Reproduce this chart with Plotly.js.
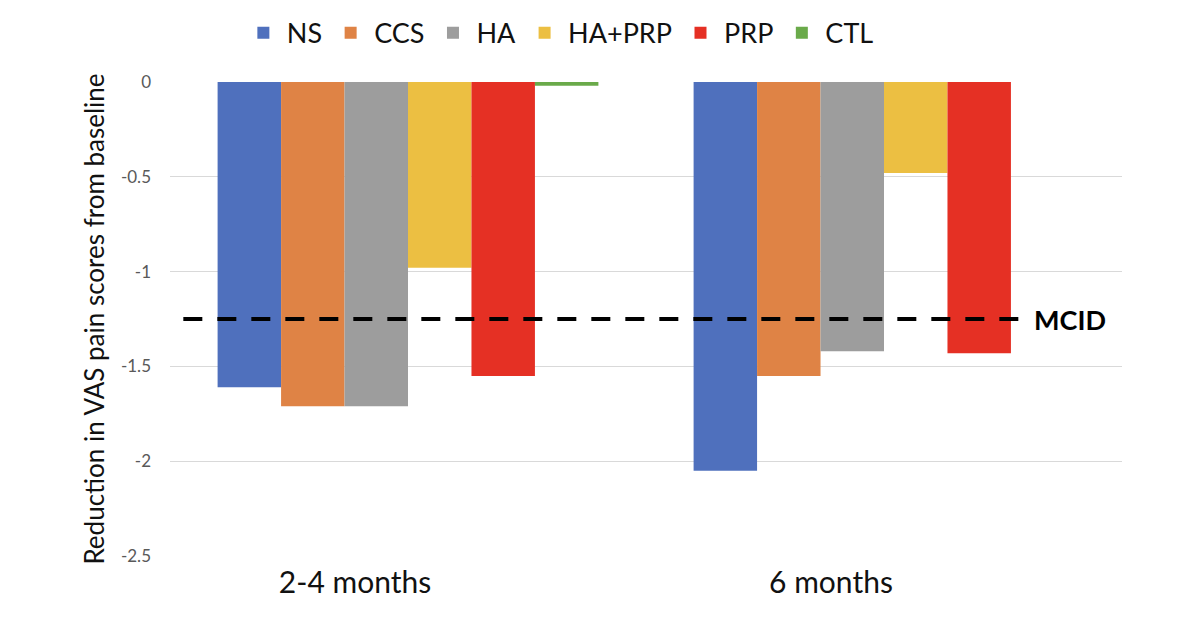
<!DOCTYPE html>
<html>
<head>
<meta charset="utf-8">
<script src="https://cdn.plot.ly/plotly-3.0.1.min.js"></script>
<style>html,body{margin:0;padding:0;background:#fff;}#chart{width:1200px;height:626px;}</style>
</head>
<body>
<div id="chart"></div>
<script>
const categories = ['2-4 months', '6 months'];
const seriesNames = ['NS', 'CCS', 'HA', 'HA+PRP', 'PRP', 'CTL'];
const NS = [-1.61, -2.05];
const CCS = [-1.71, -1.55];
const HA = [-1.71, -1.42];
const HA_PRP = [-0.98, -0.48];
const PRP = [-1.55, -1.43];
const CTL = [-0.02, null];
const MCID = -1.25;
const yTicks = [0, -0.5, -1, -1.5, -2, -2.5];
const yTickText = ['0', '-0.5', '-1', '-1.5', '-2', '-2.5'];

const seriesValues = [NS, CCS, HA, HA_PRP, PRP, CTL];
const colors = ['#4f70bd', '#df8345', '#9d9d9d', '#ecbf42', '#e53024', '#6aaa4a'];
const font = 'Lato, "Open Sans", sans-serif';

const traces = seriesNames.map((n, i) => ({
  type: 'bar',
  name: n,
  x: categories,
  y: seriesValues[i],
  marker: {color: colors[i], line: {width: 0}},
  hoverinfo: 'y+name'
}));

const layout = {
  width: 1200, height: 626,
  margin: {l: 170, r: 78, t: 82, b: 70, autoexpand: false},
  paper_bgcolor: '#fff', plot_bgcolor: '#fff',
  barmode: 'group', bargap: 0.2, bargroupgap: 0,
  font: {family: font, color: '#000'},
  xaxis: {
    type: 'category',
    showgrid: false, zeroline: false, showline: false, ticks: '',
    tickfont: {size: 30, color: '#111', family: font},
    ticklabelshift: -53,
    ticklabelstandoff: 6
  },
  yaxis: {
    range: [-2.5, 0],
    tickvals: yTicks, ticktext: yTickText,
    showgrid: true, gridcolor: '#d9d9d9', gridwidth: 1,
    zeroline: false, showline: false, ticks: '',
    tickfont: {size: 17, color: '#595959', family: font},
    ticklabelstandoff: 18,
    title: {text: 'Reduction in VAS pain scores from baseline', font: {size: 26, color: '#111', family: font}, standoff: 8}
  },
  legend: {
    orientation: 'h', x: 0.409, xanchor: 'center', y: 1.103, yanchor: 'middle',
    font: {size: 27, color: '#111', family: font},
    itemwidth: 37, traceorder: 'normal', bgcolor: 'rgba(0,0,0,0)'
  },
  shapes: [{
    type: 'line', xref: 'paper', yref: 'y',
    x0: 0.014, x1: 0.893, y0: MCID, y1: MCID,
    line: {color: '#000', width: 4, dash: '19px,15px'}
  }],
  annotations: [{
    xref: 'paper', yref: 'y', x: 0.905, y: MCID, xanchor: 'left', yanchor: 'middle',
    text: '<b>MCID</b>', showarrow: false,
    font: {size: 27, color: '#000', family: font}
  }],
  showlegend: true
};

Plotly.newPlot('chart', traces, layout, {displayModeBar: false, staticPlot: true});
</script>
</body>
</html>
